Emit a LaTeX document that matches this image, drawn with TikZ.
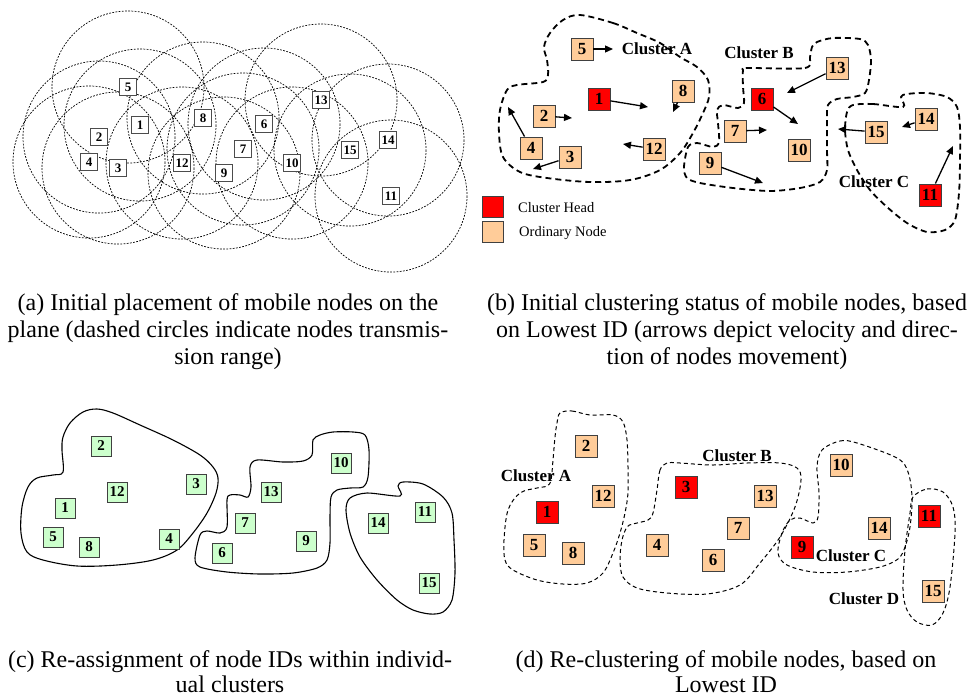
\documentclass[tikz,border=0pt]{standalone}
\usepackage{fontspec}
\setmainfont{Liberation Serif}
\usetikzlibrary{arrows.meta}
\definecolor{chred}{HTML}{FF0000}
\definecolor{ordn}{HTML}{FFCC99}
\definecolor{grn}{HTML}{CCFFCC}
\begin{document}
\begin{tikzpicture}[x=1pt,y=-1pt,
  na/.style={draw=black!70, fill=white, line width=0.8pt, minimum size=17pt, inner sep=0pt, font=\fontsize{13}{13}\selectfont\bfseries},
  nb/.style={draw=black!75, line width=0.9pt, minimum size=22pt, inner sep=0pt, font=\fontsize{17}{17}\selectfont\bfseries},
  chb/.style={nb, fill=chred},
  odb/.style={nb, fill=ordn},
  nc/.style={draw=black!75, fill=grn, line width=0.9pt, minimum size=20pt, inner sep=0pt, font=\fontsize{15}{15}\selectfont\bfseries},
  rng/.style={draw=black, line width=0.7pt, dash pattern=on 1.8pt off 1.4pt},
  dashb/.style={draw=black, line width=1.8pt, dash pattern=on 6pt off 4pt},
  dashd/.style={draw=black, line width=1pt, dash pattern=on 4pt off 3pt},
  solc/.style={draw=black, line width=1.1pt},
  mv/.style={draw=black, line width=1.3pt, -{Triangle[length=8pt,width=7pt]}},
  clab/.style={font=\fontsize{17}{17}\selectfont\bfseries, inner sep=0pt},
  leg/.style={font=\fontsize{14.5}{14.5}\selectfont, anchor=west, inner sep=0pt},
  capt/.style={font=\fontsize{24}{24}\selectfont, anchor=base, inner sep=0pt}]
\useasboundingbox (0,0) rectangle (969,697);

% ---------------- (a) ----------------
\foreach \x/\y in {128/87,140/125,203/118,99/137,89/162,118/168,182/163,224/173,243/149,264/124,292/163,321/100,350/150,388/140,391/196}
  \draw[rng] (\x,\y) circle[radius=76];
\node[na] (a5) at (128,87) {5};
\node[na] (a1) at (140,125) {1};
\node[na] (a8) at (203,118) {8};
\node[na] (a2) at (99,137) {2};
\node[na] (a4) at (89,162) {4};
\node[na] (a3) at (118,168) {3};
\node[na] (a12) at (182,163) {12};
\node[na] (a9) at (224,173) {9};
\node[na] (a7) at (243,149) {7};
\node[na] (a6) at (264,124) {6};
\node[na] (a10) at (292,163) {10};
\node[na] (a13) at (321,100) {13};
\node[na] (a15) at (350,150) {15};
\node[na] (a14) at (388,140) {14};
\node[na] (a11) at (391,196) {11};

% ---------------- (b) ----------------
\draw[dashb] plot[smooth cycle, tension=0.55] coordinates {(580,15) (613,23) (637,33) (660,43) (680,57) (697,67) (708,80) (709,97) (703,113) (693,133) (680,153) (660,170) (630,180) (590,182) (547,178) (520,172) (503,157) (499,133) (500,110) (507,90) (517,85) (543,82) (548,75) (547,60) (544,47) (550,33) (563,20)};
\draw[dashb] plot[smooth cycle, tension=0.5] coordinates {(747,68) (805,68) (810,57) (812,47) (817,42) (833,38) (860,39) (868,45) (871,60) (869,80) (865,93) (853,97) (837,99) (828,105) (827,120) (827,150) (827,170) (820,182) (800,188) (770,191) (733,188) (700,183) (687,178) (684,167) (688,147) (697,143) (713,147) (719,142) (718,123) (717,110) (723,105) (738,108) (744,103) (743,87) (743,70)};
\draw[dashb] plot[smooth cycle, tension=0.5] coordinates {(853,105) (873,104) (903,107) (901,97) (907,94) (927,93) (947,97) (957,107) (960,127) (960,160) (959,193) (955,220) (945,230) (927,232) (907,223) (887,207) (870,190) (857,170) (848,150) (845,130) (847,112)};

\node[odb] (b5) at (582,49) {5};
\node[chb] (b1) at (599,99) {1};
\node[odb] (b8) at (683,91) {8};
\node[odb] (b2) at (544,116) {2};
\node[odb] (b4) at (531,148) {4};
\node[odb] (b3) at (570,157) {3};
\node[odb] (b12) at (654,149) {12};
\node[chb] (b6) at (762,99) {6};
\node[odb] (b13) at (837,68) {13};
\node[odb] (b7) at (735,131) {7};
\node[odb] (b10) at (799,150) {10};
\node[odb] (b9) at (710,163) {9};
\node[odb] (b15) at (876,132) {15};
\node[odb] (b14) at (926,119) {14};
\node[chb] (b11) at (930,195) {11};

\coordinate (t5) at (613,49);
\coordinate (t1) at (648,107);
\coordinate (t2) at (572,118);
\coordinate (t8) at (673,112);
\coordinate (t4) at (508,107);
\coordinate (t3) at (533,169);
\coordinate (t12) at (623,144);
\coordinate (t13) at (787,93);
\coordinate (t6) at (798,124);
\coordinate (t7) at (767,130);
\coordinate (t9) at (763,183);
\coordinate (t15) at (838,129);
\coordinate (t14) at (902,127);
\coordinate (t11) at (953,146);
\foreach \n in {5,1,2,8,4,3,12,13,6,7,9,15,14,11}
  \draw[mv] (b\n) -- (t\n);

\node[clab] (lA) at (657,49) {Cluster A};
\node[clab] (lB) at (759,53) {Cluster B};
\node[clab] (lC) at (874,182) {Cluster C};

\node[chb, minimum size=21pt] (legh) at (493,207) {};
\node[odb, minimum size=21pt] (lego) at (493,232) {};
\node[leg] (legth) at (518,208) {Cluster Head};
\node[leg] (legto) at (519,233) {Ordinary Node};

% ---------------- (c) ----------------
\draw[solc] plot[smooth cycle, tension=0.55] coordinates {(63,472) (62,450) (63,437) (70,423) (83,412) (97,409) (113,413) (140,425) (173,440) (200,455) (213,467) (218,478) (216,493) (207,513) (193,533) (177,550) (153,560) (117,565) (77,566) (43,560) (27,552) (21,533) (22,507) (28,487) (37,478) (53,475)};
\draw[solc] plot[smooth cycle, tension=0.5] coordinates {(257,460) (283,462) (303,461) (312,455) (313,440) (320,435) (333,432) (353,432) (365,435) (369,450) (368,477) (363,487) (350,488) (337,490) (331,497) (330,517) (330,543) (327,560) (317,568) (293,573) (260,574) (227,572) (200,567) (195,558) (200,535) (207,531) (220,533) (227,527) (227,500) (230,495) (240,495) (248,497) (251,487) (250,467)};
\draw[solc] plot[smooth cycle, tension=0.5] coordinates {(367,493) (400,496) (398,486) (403,482) (423,484) (443,497) (452,513) (454,540) (455,573) (452,600) (443,612) (430,614) (413,610) (397,600) (377,580) (360,557) (350,533) (346,510) (350,498)};

\node[nc] (c2) at (101,446) {2};
\node[nc] (c12) at (117,492) {12};
\node[nc] (c3) at (196,484) {3};
\node[nc] (c1) at (65,508) {1};
\node[nc] (c5) at (53,537) {5};
\node[nc] (c8) at (89,547) {8};
\node[nc] (c4) at (169,539) {4};
\node[nc] (c10) at (341,463) {10};
\node[nc] (c13) at (271,492) {13};
\node[nc] (c7) at (245,523) {7};
\node[nc] (c9) at (306,541) {9};
\node[nc] (c6) at (222,553) {6};
\node[nc] (c14) at (378,523) {14};
\node[nc] (c11) at (425,512) {11};
\node[nc] (c15) at (429,583) {15};

% ---------------- (d) ----------------
\draw[dashd] plot[smooth cycle, tension=0.55] coordinates {(560,413) (572,411) (590,415) (613,415) (623,422) (627,440) (628,467) (628,493) (625,513) (620,533) (613,553) (603,573) (587,583) (563,584) (537,580) (513,570) (505,560) (504,540) (508,510) (520,493) (537,488) (547,486) (551,480) (553,460) (555,437) (557,423)};
\draw[dashd] plot[smooth cycle, tension=0.55] coordinates {(667,463) (660,470) (657,490) (653,513) (648,520) (633,524) (627,527) (622,540) (620,560) (623,577) (637,588) (667,593) (707,594) (740,585) (760,563) (780,537) (795,507) (801,480) (797,468) (780,463) (747,463) (713,465) (680,463)};
\draw[dashd] plot[smooth cycle, tension=0.55] coordinates {(822,450) (840,441) (857,443) (897,458) (908,472) (912,497) (910,527) (905,547) (898,559) (880,567) (847,572) (813,572) (787,565) (778,553) (782,533) (790,520) (800,518) (813,523) (818,517) (819,493) (817,467)};
\draw[dashd] plot[smooth cycle, tension=0.55] coordinates {(913,497) (927,489) (943,492) (953,507) (955,533) (950,587) (943,613) (932,625) (917,622) (907,610) (903,590) (905,550) (910,513)};

\node[odb] (d2) at (586,446) {2};
\node[odb] (d12) at (603,496) {12};
\node[chb] (d1) at (547,512) {1};
\node[odb] (d5) at (534,545) {5};
\node[odb] (d8) at (573,553) {8};
\node[chb] (d3) at (686,487) {3};
\node[odb] (d13) at (765,496) {13};
\node[odb] (d7) at (738,528) {7};
\node[odb] (d4) at (657,545) {4};
\node[odb] (d6) at (713,560) {6};
\node[odb] (d10) at (841,465) {10};
\node[odb] (d14) at (879,528) {14};
\node[chb] (d9) at (802,547) {9};
\node[chb] (d11) at (929,516) {11};
\node[odb] (d15) at (933,591) {15};

\node[clab] (dA) at (536,476) {Cluster A};
\node[clab] (dB) at (737,456) {Cluster B};
\node[clab] (dC) at (851,556) {Cluster C};
\node[clab] (dD) at (864,599) {Cluster D};

% ---------------- captions ----------------
\node[capt] (ca1) at (228,310) {(a) Initial placement of mobile nodes on the};
\node[capt] (ca2) at (228,337) {plane (dashed circles indicate nodes transmis-};
\node[capt] (ca3) at (228,364) {sion range)};
\node[capt] (cb1) at (727,310) {(b) Initial clustering status of mobile nodes, based};
\node[capt] (cb2) at (727,337) {on Lowest ID (arrows depict velocity and direc-};
\node[capt] (cb3) at (727,364) {tion of nodes movement)};
\node[capt] (cc1) at (230,667) {(c) Re-assignment of node IDs within individ-};
\node[capt] (cc2) at (230,692) {ual clusters};
\node[capt] (cd1) at (726,667) {(d) Re-clustering of mobile nodes, based on};
\node[capt] (cd2) at (726,692) {Lowest ID};
\end{tikzpicture}
\end{document}
